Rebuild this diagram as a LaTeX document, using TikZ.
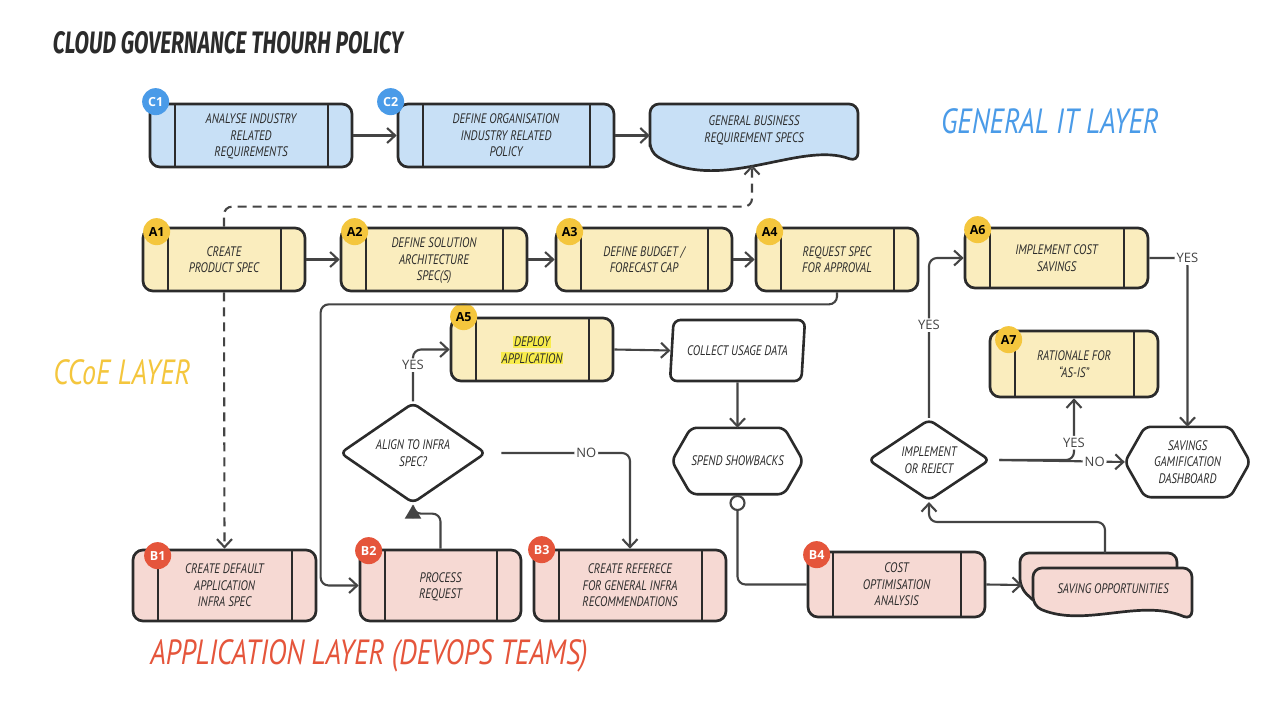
\documentclass[tikz,border=0pt]{standalone}
\usepackage{fontspec}
\setmainfont{PT Sans}
\newfontfamily\handfont{PT Sans}[FakeStretch=0.8]
\newfontfamily\titlefont{Fira Sans}[FakeStretch=0.68]
\newfontfamily\labfont{Open Sans}
\usetikzlibrary{positioning,arrows.meta,shapes.geometric}

\definecolor{ink}{HTML}{2B2B2B}
\definecolor{wire}{HTML}{444444}
\definecolor{itblue}{HTML}{4A9BE8}
\definecolor{itfill}{HTML}{C8E0F6}
\definecolor{ccoeyel}{HTML}{F4C63D}
\definecolor{ccoefill}{HTML}{FAEDBE}
\definecolor{appred}{HTML}{E5553B}
\definecolor{appfill}{HTML}{F6D9D3}
\definecolor{hilite}{HTML}{F8EC4C}

\newcommand\hilt[1]{{\setlength{\fboxsep}{1pt}\colorbox{hilite}{#1}}}
% hexagon round a text node
\newcommand\hexoutline[2]{\draw[ink, line width=2.6pt, rounded corners=6pt] (#1.west) -- ([xshift=#2]#1.north west) -- ([xshift=-#2]#1.north east) -- (#1.east) -- ([xshift=-#2]#1.south east) -- ([xshift=#2]#1.south west) -- cycle;}

\tikzset{
  boxtext/.style={align=center, inner sep=0pt, text depth=0pt, text=ink, font=\handfont\itshape\fontsize{13.8}{16.5}\selectfont},
  proc/.style={boxtext, draw=ink, line width=2.7pt, rounded corners=10pt,
    path picture={\draw[ink, line width=2.7pt]
      ([xshift=25pt]path picture bounding box.north west) -- ([xshift=25pt]path picture bounding box.south west)
      ([xshift=-24pt]path picture bounding box.north east) -- ([xshift=-24pt]path picture bounding box.south east);}},
  itbox/.style={proc, fill=itfill},
  ccoebox/.style={proc, fill=ccoefill},
  appbox/.style={proc, fill=appfill},
  badge/.style={circle, inner sep=0pt, minimum size=27pt, font=\labfont\bfseries\fontsize{12.5}{12.5}\selectfont},
  itbadge/.style={badge, fill=itblue, text=white},
  ccoebadge/.style={badge, fill=ccoeyel, text=black},
  appbadge/.style={badge, fill=appred, text=white},
  decision/.style={boxtext, diamond, draw=ink, line width=2.6pt, rounded corners=6pt},
  docline/.style={draw=ink, line width=2.7pt, rounded corners=9pt},
  conn/.style={draw=wire, line width=2.1pt, rounded corners=8pt, ->},
  wirelabel/.style={fill=white, text=wire, inner sep=2pt, font=\labfont\fontsize{13}{13}\selectfont},
  layer/.style={font=\handfont\itshape\fontsize{35}{38}\selectfont}
}

\begin{document}
\begin{tikzpicture}[x=1pt, y=-1pt, >={Straight Barb[length=8pt,width=15pt]}]

\fill[white] (0,0) rectangle (1288,714);
\useasboundingbox (0,0) rectangle (1288,714);

\node[text=ink, font=\titlefont\bfseries\itshape\fontsize{31}{34}\selectfont] (title) at (228,43) {CLOUD GOVERNANCE THOURH POLICY};

% general it layer
\node[itbox, minimum width=202pt, minimum height=63pt] (c1) at (251,135.5) {ANALYSE INDUSTRY\\RELATED\\REQUIREMENTS};
\node[itbox, minimum width=216pt, minimum height=63pt] (c2) at (506,135.5) {DEFINE ORGANISATION\\INDUSTRY RELATED\\POLICY};
\draw[docline, fill=itfill] (650,152) -- (650,104) -- (858,104) -- (858,162) .. controls (800,140) and (720,195) .. (650,152) -- cycle;
\node[boxtext, minimum width=208pt, minimum height=50pt] (gbr) at (754,129) {GENERAL BUSINESS\\REQUIREMENT SPECS};
\coordinate (gbrfoot) at (752,165);
\node[itbadge] (c1tag) at ([shift={(7,-1)}]c1.north west) {C1};
\node[itbadge] (c2tag) at ([shift={(-6,-1)}]c2.north west) {C2};
\node[layer, text=itblue] (itlayer) at (1050,121) {GENERAL IT LAYER};

% ccoe layer
\node[ccoebox, minimum width=162pt, minimum height=63pt] (a1) at (224,259.5) {CREATE\\PRODUCT SPEC};
\node[ccoebox, minimum width=186pt, minimum height=63pt] (a2) at (434,259.5) {DEFINE SOLUTION\\ARCHITECTURE\\SPEC(S)};
\node[ccoebox, minimum width=176pt, minimum height=63pt] (a3) at (644,259.5) {DEFINE BUDGET /\\FORECAST CAP};
\node[ccoebox, minimum width=162pt, minimum height=63pt] (a4) at (837,259.5) {REQUEST SPEC\\FOR APPROVAL};
\node[ccoebox, minimum width=183pt, minimum height=60pt] (a6) at (1056.5,258) {IMPLEMENT COST\\SAVINGS};
\node[ccoebox, minimum width=162pt, minimum height=63pt] (a5) at (532,349.5) {\hilt{DEPLOY}\\\hilt{APPLICATION}};
\node[ccoebox, minimum width=168pt, minimum height=66pt] (a7) at (1074,364) {RATIONALE FOR\\“AS-IS”};
\node[ccoebadge] (a1tag) at ([shift={(15,5)}]a1.north west) {A1};
\node[ccoebadge] (a2tag) at ([shift={(15,5)}]a2.north west) {A2};
\node[ccoebadge] (a3tag) at ([shift={(15,5)}]a3.north west) {A3};
\node[ccoebadge] (a4tag) at ([shift={(15,5)}]a4.north west) {A4};
\node[ccoebadge] (a5tag) at ([shift={(14,0)}]a5.north west) {A5};
\node[ccoebadge] (a6tag) at ([shift={(14,3)}]a6.north west) {A6};
\node[ccoebadge] (a7tag) at ([shift={(20,10)}]a7.north west) {A7};
\node[layer, text=ccoeyel] (ccoelayer) at (122,372) {CCoE LAYER};

\node[boxtext, draw=ink, line width=2.6pt, fill=white, rounded corners=7pt, trapezium, trapezium stretches=true,
  trapezium left angle=74, trapezium right angle=106, minimum width=135pt, minimum height=61pt] (collect) at (737.5,350.5) {COLLECT USAGE DATA};
\node[boxtext, minimum width=131pt, minimum height=66pt] (showb) at (737.5,461) {SPEND SHOWBACKS};
\hexoutline{showb}{19pt}
\node[draw=wire, line width=2.1pt, fill=white, circle, minimum size=14pt, inner sep=0pt] (shdot) at (737.5,503) {};
\node[decision, minimum width=146pt, minimum height=70pt] (align) at (413,453) {ALIGN TO INFRA\\SPEC?};
\node[decision, minimum width=122pt, minimum height=69pt] (impl) at (929,460) {IMPLEMENT\\OR REJECT};
\node[boxtext, minimum width=125pt, minimum height=70pt] (gamify) at (1187.5,462) {SAVINGS\\GAMIFICATION\\DASHBOARD};
\hexoutline{gamify}{20pt}

% application layer
\node[appbox, minimum width=183pt, minimum height=71pt] (b1) at (224.5,585.5) {CREATE DEFAULT\\APPLICATION\\INFRA SPEC};
\node[appbox, minimum width=161pt, minimum height=71pt] (b2) at (440.5,585.5) {PROCESS\\REQUEST};
\node[appbox, minimum width=192pt, minimum height=71pt] (b3) at (630,585.5) {CREATE REFERECE\\FOR GENERAL INFRA\\RECOMMENDATIONS};
\node[appbox, minimum width=177pt, minimum height=65pt] (b4) at (896.5,584.5) {COST\\OPTIMISATION\\ANALYSIS};
\draw[docline, fill=appfill] (1033,600) -- (1020,588) -- (1020,553) -- (1177,553) -- (1177,570);
\draw[docline, fill=appfill] (1033,606) -- (1033,568) -- (1192,568) -- (1192,620) .. controls (1140,598) and (1085,628) .. (1033,606) -- cycle;
\node[boxtext] (saveopp) at (1113,589) {SAVING OPPORTUNITIES};
\coordinate (saveoppin) at (1022,585);
\coordinate (saveopptop) at (1105,553);
\node[appbadge] (b1tag) at ([shift={(26,7)}]b1.north west) {B1};
\node[appbadge] (b2tag) at ([shift={(10,2)}]b2.north west) {B2};
\node[appbadge] (b3tag) at ([shift={(9,1)}]b3.north west) {B3};
\node[appbadge] (b4tag) at ([shift={(10,4)}]b4.north west) {B4};
\node[layer, text=appred] (applayer) at (369,656) {APPLICATION LAYER (DEVOPS TEAMS)};

% connectors
\draw[conn] (c1.east) -- (c2.west);
\draw[conn] (c2.east) -- (c2.east -| gbr.west);
\draw[conn, dash pattern=on 9pt off 6pt] (a1.north) -- ++(0,-20) -| (gbrfoot);
\draw[conn, dash pattern=on 9pt off 6pt] (a1.south) -- (b1.north);
\draw[conn] (a1.east) -- (a2.west);
\draw[conn] (a2.east) -- (a3.west);
\draw[conn] (a3.east) -- (a4.west);
\draw[conn] (a4.south) -- ++(0,12) -| ([xshift=-38pt]b2.west) -- (b2.west);
\draw[conn, -{Triangle[length=14pt,width=16pt]}] (b2.north) -- ++(0,-35) -| (align.south);
\draw[conn] (align.north) |- (a5.west) node[wirelabel, pos=0.35] {YES};
\draw[conn] ([xshift=14pt]align.east) -| (b3.north) node[wirelabel, pos=0.33] {NO};
\draw[conn] (a5.east) -- (collect.west);
\draw[conn] (collect.south) -- (showb.north);
\draw[conn, -] (shdot.south) |- (b4.west);
\draw[conn] (b4.east) -- (saveoppin);
\draw[conn] (saveopptop) -- ++(0,-31) -| (impl.south);
\draw[conn] (impl.north) |- (a6.west) node[wirelabel, pos=0.29] {YES};
\draw[conn] ([xshift=8pt]impl.east) -| (a7.south) node[wirelabel, pos=0.64] {YES};
\draw[conn] ([xshift=8pt]impl.east) -- (gamify.west) node[wirelabel, pos=0.76] {NO};
\draw[conn] (a6.east) -| (gamify.north) node[wirelabel, pos=0.5] {YES};

\end{tikzpicture}
\end{document}
